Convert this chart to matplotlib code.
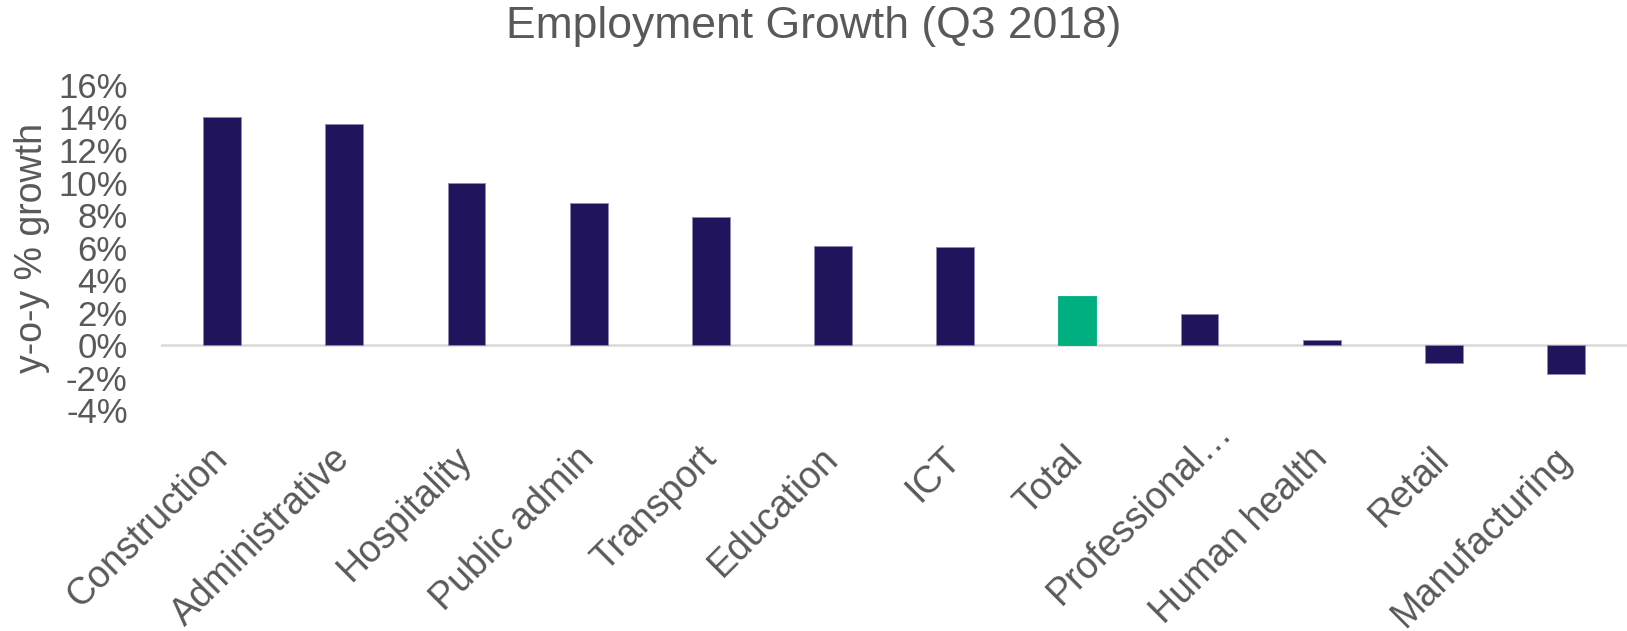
import matplotlib.pyplot as plt
from matplotlib.ticker import PercentFormatter
from matplotlib.transforms import ScaledTranslation

# sectors, ordered by growth
categories = ['Construction', 'Administrative', 'Hospitality', 'Public admin',
              'Transport', 'Education', 'ICT', 'Total', 'Professional…',
              'Human health', 'Retail', 'Manufacturing']
growth = [14.0, 13.58, 9.95, 8.76, 7.88, 6.09, 6.05, 3.02, 1.89, 0.29, -1.09, -1.8]

navy = '#20145C'
green = '#00AF80'
grey_text = '#595959'

plt.rcParams['font.family'] = ['Liberation Sans', 'DejaVu Sans']
plt.rcParams['axes.unicode_minus'] = False

fig = plt.figure(figsize=(16.27, 6.31), dpi=100)
ax = fig.add_axes([0.099, 0.3502, 0.901, 0.5151])

colors = [green if c == 'Total' else navy for c in categories]
x = range(len(categories))
ax.bar(x, growth, width=0.31, color=colors, edgecolor='#8F8AB0', linewidth=0.6)
for p, c in zip(ax.patches, categories):
    if c == 'Total':
        p.set_edgecolor(green)

ax.axhline(0, color='#D9D9D9', linewidth=1.8, zorder=0)
ax.set_xlim(-0.5, len(categories) - 0.5)
ax.set_ylim(-4, 16)
ax.set_yticks(range(-4, 17, 2))
ax.yaxis.set_major_formatter(PercentFormatter(decimals=0))

ax.set_xticks(list(x))
ax.set_xticklabels(categories, rotation=45, ha='right', va='center',
                   rotation_mode='anchor')
ax.tick_params(axis='x', length=0, pad=31, labelsize=27, labelcolor=grey_text)
ax.tick_params(axis='y', length=0, pad=24, labelsize=25, labelcolor=grey_text)

# the truncated label keeps its word ending at the tick, ellipsis runs past it
for lbl in ax.get_xticklabels():
    if lbl.get_text().endswith('…'):
        shift = 0.27
        lbl.set_transform(lbl.get_transform() +
                          ScaledTranslation(shift, shift, fig.dpi_scale_trans))

for s in ax.spines.values():
    s.set_visible(False)

ax.set_ylabel('y-o-y % growth', fontsize=27, color=grey_text)
ax.yaxis.set_label_coords(-0.076, 0.5)
fig.suptitle('Employment Growth (Q3 2018)', fontsize=32, color=grey_text, y=0.99)

fig.savefig('out.png', dpi=100)
